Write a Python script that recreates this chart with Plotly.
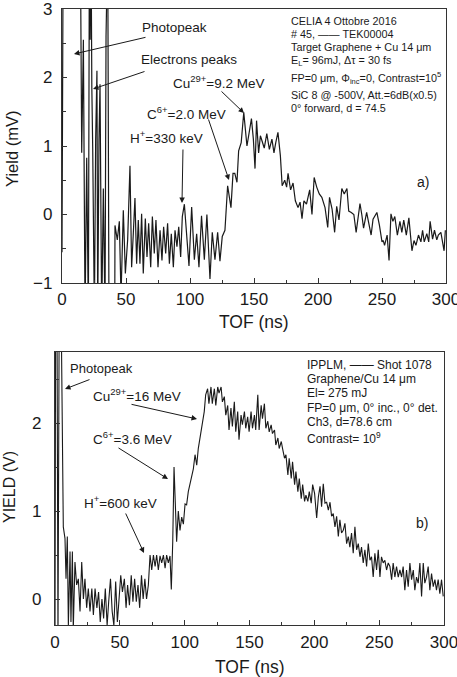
import plotly.graph_objects as go

W, H = 457, 677

# ---------------- panel a) data (TOF ns, yield mV) ----------------
xa = [0, 1.0, 1.1, 14.0, 15.4, 16.7, 18.0, 19.3, 20.6, 21.4, 22.0, 22.7, 23.3, 24.0, 25.3, 26.3, 27.3, 27.9, 28.9, 29.7, 31.0, 32.3, 33.6, 34.4, 35.7, 36.7, 41.2,
      41.4, 43.2, 44.8, 46.1, 47.9, 49.5, 51.3, 53.1, 54.4, 55.7, 57.0, 58.3, 59.6, 60.9, 62.2, 63.5, 65.1, 66.4, 67.7, 69.3, 70.6, 72.1, 73.4, 75.0,
      76.6, 78.1, 79.4, 81.0, 82.5, 83.9, 85.4, 87.0, 88.3, 89.8, 91.2, 92.7, 94.0, 95.6, 97.4, 99.2, 101.3, 103.4, 105.2, 107.0, 109.0, 111.2,
      113.2, 115.6, 117.4, 119.5, 121.6, 123.4, 125.2, 127.3, 129.4, 132.0, 133.6, 135.0, 136.7, 138.0, 140.0, 142.0, 144.5, 146.0, 147.0, 148.0,
      149.5, 150.8, 152.0, 153.6, 155.0, 156.0, 158.0, 160.0, 162.0, 164.0, 165.6, 167.0, 168.7, 170.6, 172.0, 174.0, 175.5, 176.6, 178.6, 180.5,
      182.3, 184.4, 186.0, 187.5, 189.0, 191.0, 193.5, 195.3, 197.0, 199.0, 201.0, 203.0, 205.5, 207.6, 209.0, 211.0, 213.0, 214.6, 216.4, 218.6,
      220.5, 222.6, 224.0, 226.0, 228.0, 229.8, 231.3, 232.8, 234.2, 235.6, 238.0, 239.8, 241.5, 243.0, 246.0, 248.0, 250.0, 251.0, 252.0, 254.0,
      255.5, 257.0, 258.5, 260.0, 262.0, 264.0, 265.5, 267.0, 269.0, 271.0, 273.4, 275.0, 276.5, 278.5, 280.4, 281.7, 283.0, 285.0, 286.5, 287.6,
      289.5, 291.0, 292.8, 294.0, 296.0, 298.5, 299.5]
ya = [-0.55, 5, 5, 5, 0.9, 2.55, -1.5, 0.83, -1.5, 4, 2.55, 4, 1.86, 0.96, -1.5, 1.1, 2.1, -1.5, 1.1, 1.9, -1.5, 0.38, -1.5, 2.6, 4, -1.5, -1.5,
      -0.16, -0.37, -0.10, -1.2, 0.06, -0.86, -0.37, 0.71, -0.77, -0.28, 0.24, -0.72, -0.08, -0.72, 0.01, -0.86, -0.06, -0.62, -0.13, -0.77, -0.03, -0.57, -0.08, -0.77,
      -0.23, -0.67, -0.18, -0.57, -0.13, -0.72, -0.28, -0.77, -0.23, -0.47, -0.18, -0.62, -0.03, 0.15, -0.28, -0.75, 0.11, -0.66, -0.28, -0.77, -0.02, -0.66,
      0.0, -0.94, -0.26, -0.66, -0.26, -0.68, -0.32, -0.23, 0.42, 0.10, 0.60, 0.60, 0.47, 0.93, 1.05, 1.49, 1.00, 1.20, 1.33, 1.40,
      1.10, 0.67, 1.37, 0.90, 1.15, 1.10, 0.97, 1.18, 0.95, 1.10, 0.90, 1.05, 1.20, 0.86, 0.42, 0.50, 0.40, 0.60, 0.36, 0.46,
      0.20, 0.10, 0.18, -0.06, 0.20, 0.15, 0.36, 0.00, 0.54, 0.40, 0.30, 0.25, 0.10, -0.19, 0.25, 0.08, -0.26, 0.12, -0.08, 0.38,
      0.30, 0.38, 0.05, 0.03, 0.00, -0.26, -0.02, 0.16, 0.00, -0.20, 0.03, -0.16, -0.30, -0.07, 0.03, -0.16, -0.40, -0.38, -0.45, -0.30,
      -0.67, 0.01, -0.10, -0.03, -0.30, -0.10, -0.26, -0.08, -0.30, -0.05, -0.53, -0.38, -0.45, -0.30, -0.40, -0.23, -0.40, -0.28, -0.40, -0.10,
      -0.36, -0.23, -0.37, -0.30, -0.26, -0.53, -0.23]

# ---------------- panel b) data (TOF ns, yield V) ----------------
xb = [0, 0.5, 1.5, 2.3, 3.3, 4.6, 5.6, 6.4, 7.7, 8.5, 9.5, 10.3, 11.6, 12.3, 13.4, 14.1, 15.4, 16.7, 18.0, 19.3,
      20.6, 21.9, 23.1, 24.4, 25.7, 27.0, 28.4, 29.6, 30.9, 32.3, 33.6, 34.9, 36.2, 37.5, 38.8, 40.2, 41.4, 42.8, 44.1, 45.4,
      46.8, 48.1, 49.4, 50.7, 52.0, 53.5, 54.8, 56.0, 57.4, 58.8, 60.1, 61.4, 62.7, 64.0, 65.3, 66.7, 68.0, 69.3, 70.6, 72.0,
      73.3, 74.6, 75.9, 77.2, 78.4, 79.7, 81.0, 82.3, 83.6, 84.9, 86.1, 87.4, 88.7, 89.7, 90.8, 91.8, 92.8, 93.8, 95.1, 96.4,
      97.7, 99.0, 100.3, 101.5, 102.8, 104.8, 106.7, 108.0, 109.3, 110.5, 112.6, 113.6, 115.1, 116.2, 117.7, 118.7, 120.3, 121.3, 122.9, 124.0,
      125.5, 126.5, 128.1, 129.1, 130.6, 131.7, 133.2, 134.2, 135.7, 136.8, 138.3, 139.4, 140.9, 141.9, 143.5, 144.5, 146.1, 147.1, 148.6, 149.7,
      151.2, 152.3, 153.8, 154.8, 156.4, 157.4, 159.0, 160.0, 161.5, 162.6, 164.1, 165.2, 166.7, 167.7, 169.3, 170.3, 171.9, 172.9, 174.5, 175.5,
      177.0, 178.1, 179.6, 180.6, 182.2, 183.2, 184.8, 185.8, 187.3, 188.4, 189.9, 191.0, 192.5, 193.5, 195.0, 196.1, 197.6, 198.7, 200.2, 201.8,
      203.1, 204.4, 205.6, 206.9, 208.2, 209.5, 210.8, 212.1, 213.3, 214.6, 215.9, 217.2, 218.5, 219.7, 221.0, 222.3, 223.6, 224.9, 226.2, 227.4,
      228.7, 230.0, 231.3, 232.6, 233.9, 235.2, 236.4, 237.7, 239.0, 240.3, 241.6, 242.9, 244.1, 245.4, 246.7, 248.0, 249.3, 250.6, 251.8, 253.1,
      254.4, 255.7, 257.0, 258.3, 259.6, 260.8, 262.1, 263.4, 264.7, 266.0, 267.3, 268.5, 269.8, 271.1, 272.4, 273.7, 275.0, 276.3, 277.5, 278.8,
      280.1, 281.4, 282.7, 284.0, 285.2, 286.5, 287.8, 289.1, 290.4, 291.7, 293.0, 294.2, 295.5, 296.8, 298.1, 299.4]
yb = [-0.5, 3.5, 3.5, -0.5, 3.5, 3.5, 1.5, 0.82, 0.69, 0.23, 0.71, -0.3, 0.54, -0.26, 0.54, -0.35, 0.42, 0.16, 0.23, -0.14,
      0.42, 0.0, 0.23, -0.1, 0.12, -0.14, 0.12, -0.18, 0.12, -0.1, 0.08, -0.26, 0.0, -0.22, 0.12, -0.3, -0.03, 0.23, -0.14, -0.3,
      0.2, -0.26, 0.0, 0.27, 0.08, 0.23, -0.1, 0.16, -0.07, 0.27, -0.03, 0.23, -0.03, 0.16, -0.1, 0.27, 0.0, 0.23, 0.0, 0.16,
      0.5, 0.33, 0.5, 0.37, 0.5, 0.33, 0.49, 0.41, 0.5, 0.35, 0.5, 0.41, 0.49, 0.11, 0.65, 1.5, 1.08, 0.65, 1.0, 0.78,
      0.93, 0.85, 1.08, 1.07, 1.22, 1.37, 1.48, 1.64, 1.52, 1.71, 1.92, 2.02, 2.13, 2.32, 2.39, 2.22, 2.41, 2.22, 2.39, 2.2,
      2.41, 2.34, 2.41, 2.24, 2.3, 2.09, 2.2, 1.92, 2.17, 1.96, 2.24, 1.9, 2.13, 1.81, 2.09, 1.98, 2.13, 1.94, 2.07, 1.9,
      2.13, 1.94, 2.09, 1.92, 2.32, 1.92, 2.2, 2.05, 2.22, 1.94, 2.02, 1.9, 1.98, 1.88, 1.92, 1.75, 1.83, 1.71, 1.79, 1.71,
      1.6, 1.64, 1.41, 1.6, 1.37, 1.56, 1.3, 1.45, 1.22, 1.37, 1.14, 1.3, 1.11, 1.18, 1.11, 1.22, 1.09, 1.3, 1.2, 0.92,
      1.16, 1.28, 1.05, 1.31, 1.09, 1.1, 1.01, 1.1, 0.94, 0.97, 0.82, 0.94, 0.71, 0.9, 0.75, 0.78, 0.86, 0.63, 0.71, 0.59,
      0.75, 0.52, 0.82, 0.56, 0.63, 0.48, 0.59, 0.41, 0.56, 0.37, 0.63, 0.44, 0.48, 0.25, 0.52, 0.33, 0.56, 0.25, 0.48, 0.41,
      0.44, 0.33, 0.41, 0.37, 0.22, 0.41, 0.25, 0.37, 0.25, 0.33, 0.25, 0.37, 0.1, 0.33, 0.14, 0.41, 0.22, 0.33, 0.1, 0.25,
      0.18, 0.41, 0.03, 0.41, 0.18, 0.25, 0.37, 0.1, 0.29, 0.14, 0.22, 0.1, 0.22, 0.06, 0.22, 0.03]

assert len(xa) == len(ya), (len(xa), len(ya))
assert len(xb) == len(yb), (len(xb), len(yb))

xticks = [0, 50, 100, 150, 200, 250, 300]
yticks_a = [-1, 0, 1, 2, 3]
yticks_b = [0, 1, 2]

FONT = "Liberation Sans, Arial, sans-serif"
INK = "#1a1a1a"
AX = "#333333"


def px(x, y):
    return x / W, 1 - y / H


fig = go.Figure()
fig.add_trace(go.Scatter(x=xa, y=ya, mode="lines", line=dict(color=INK, width=1.2),
                         xaxis="x", yaxis="y", showlegend=False, hoverinfo="skip"))
fig.add_trace(go.Scatter(x=xb, y=yb, mode="lines", line=dict(color=INK, width=1.1),
                         xaxis="x2", yaxis="y2", showlegend=False, hoverinfo="skip"))

tickfont = dict(family=FONT, size=17, color=INK)


def xaxis(domain, anchor, standoff):
    return dict(domain=domain, anchor=anchor, range=[0, 300], tickvals=xticks,
                ticks="inside", ticklen=5, tickwidth=1, tickcolor=AX,
                minor=dict(ticks="inside", ticklen=3, dtick=25, tickcolor=AX),
                showline=True, linecolor=AX, linewidth=1.3, mirror=True,
                showgrid=False, zeroline=False, tickfont=tickfont, ticklabelstandoff=standoff,
                ticklabeloverflow="allow", automargin=False)


def yaxis(domain, anchor, rng, tv, standoff):
    return dict(domain=domain, anchor=anchor, range=rng, tickvals=tv,
                ticks="inside", ticklen=5, tickwidth=1, tickcolor=AX,
                minor=dict(ticks="inside", ticklen=4, dtick=0.5, tick0=0, tickcolor=AX),
                showline=True, linecolor=AX, linewidth=1.3, mirror=True,
                showgrid=False, zeroline=False, tickfont=tickfont, ticklabelstandoff=standoff,
                ticklabeloverflow="allow", automargin=False)


ann = []


def label(x, y, text, size=13.5, anchor="left"):
    X, Y = px(x, y)
    ann.append(dict(x=X, y=Y, xref="paper", yref="paper", text=text, showarrow=False,
                    xanchor=anchor, yanchor="middle", font=dict(family=FONT, size=size, color=INK)))


def title(x, y, text, size, angle=0):
    X, Y = px(x, y)
    ann.append(dict(x=X, y=Y, xref="paper", yref="paper", text=text, showarrow=False, textangle=angle,
                    xanchor="center", yanchor="middle", font=dict(family=FONT, size=size, color=INK)))


def arrow(tail, tip):
    X, Y = px(*tip)
    ann.append(dict(x=X, y=Y, xref="paper", yref="paper", text="", showarrow=True,
                    axref="pixel", ayref="pixel", ax=tail[0] - tip[0], ay=tail[1] - tip[1],
                    arrowhead=2, arrowsize=1.1, arrowwidth=1, arrowcolor=INK, standoff=0))


# axis titles
title(12, 149, "Yield (mV)", 16.5, -90)
title(254, 322, "TOF (ns)", 17.5)
title(9, 487, "YIELD (V)", 16, -90)
title(250, 667, "TOF (ns)", 17.5)

# panel a labels
label(140, 27, "Photopeak")
arrow((147, 37), (74, 54))
label(139, 60, "Electrons peaks")
arrow((146, 71), (93, 89))
label(171, 82, "Cu<sup>29+</sup>=9.2 MeV")
arrow((220, 90), (244, 113))
label(145, 113, "C<sup>6+</sup>=2.0 MeV")
arrow((208, 118), (229, 180))
label(128, 137, "H<sup>+</sup>=330 keV")
arrow((183, 148), (182, 203))
label(415, 182, "a)", size=14)

info_a = [(21, "CELIA 4 Ottobre 2016"), (34, "# 45, —— TEK00004"), (47, "Target Graphene + Cu 14 μm"),
          (61, "E<sub>L</sub>= 96mJ, Δτ = 30 fs"), (78, "FP=0 μm, Φ<sub>inc</sub>=0, Contrast=10<sup>5</sup>"),
          (95, "SiC 8 @ -500V, Att.=6dB(x0.5)"), (108, "0° forward, d = 74.5")]
for yy, t in info_a:
    label(289, yy, t, size=10.8)

# panel b labels
label(68, 368, "Photopeak", size=13)
arrow((91, 379), (65, 389))
label(91, 395, "Cu<sup>29+</sup>=16 MeV")
arrow((130, 404), (197, 419))
label(91, 438, "C<sup>6+</sup>=3.6 MeV")
arrow((117, 447), (168, 479))
label(82, 502, "H<sup>+</sup>=600 keV")
arrow((125, 512), (144, 553))
label(414, 523, "b)", size=14)

info_b = [(365, "IPPLM, —— Shot 1078"), (379, "Graphene/Cu 14 μm"), (393, "El= 275 mJ"),
          (408, "FP=0 μm, 0° inc., 0° det."), (422, "Ch3, d=78.6 cm"), (438, "Contrast= 10<sup>9</sup>")]
for yy, t in info_b:
    label(305, yy, t, size=12)

fig.update_layout(
    width=W, height=H, margin=dict(l=0, r=0, t=0, b=0, autoexpand=False),
    paper_bgcolor="white", plot_bgcolor="white",
    xaxis=xaxis([62 / W, 446 / W], "y", 0),
    yaxis=yaxis([1 - 283 / H, 1 - 9 / H], "x", [-1, 3], yticks_a, 5),
    xaxis2=xaxis([55 / W, 444 / W], "y2", 1),
    yaxis2=yaxis([1 - 625 / H, 1 - 352 / H], "x2", [-0.295, 2.807], yticks_b, 9),
    annotations=ann,
    font=dict(family=FONT, color=INK),
)

fig.write_html("out.html")
